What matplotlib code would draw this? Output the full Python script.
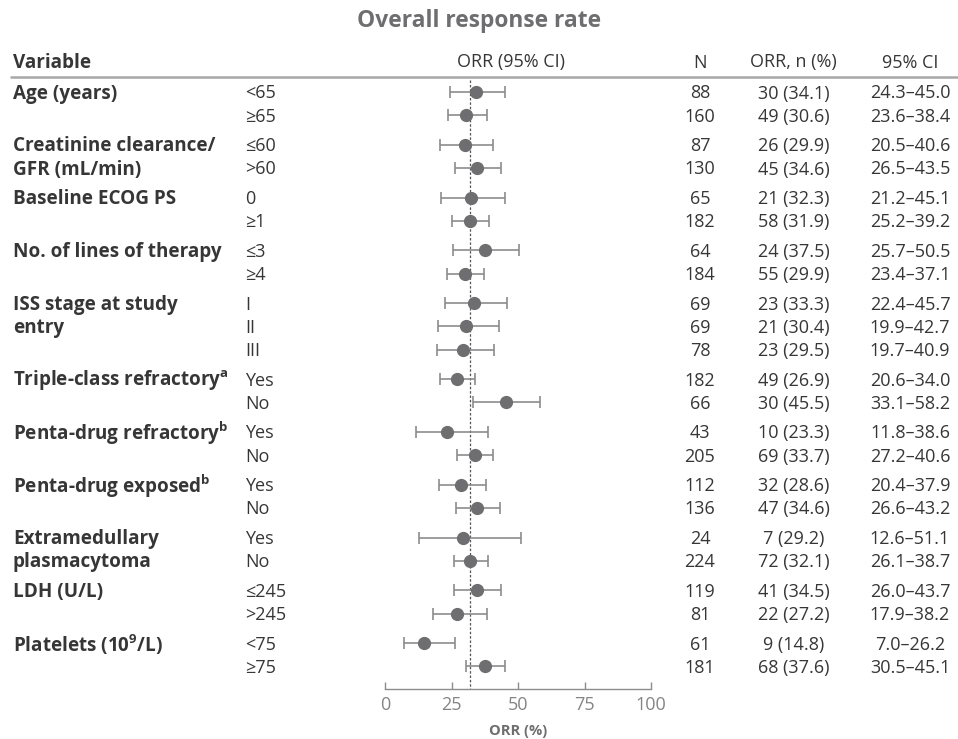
import matplotlib.pyplot as plt

plt.rcParams['font.family'] = ['Open Sans', 'DejaVu Sans']
plt.rcParams['mathtext.fontset'] = 'custom'
plt.rcParams['mathtext.rm'] = 'Open Sans'
plt.rcParams['mathtext.bf'] = 'Open Sans:bold'

# data
variables = [
    ['Age (years)'],
    ['Creatinine clearance/', 'GFR (mL/min)'],
    ['Baseline ECOG PS'],
    ['No. of lines of therapy'],
    ['ISS stage at study', 'entry'],
    [r'Triple-class refractory$^{\mathbf{a}}$'],
    [r'Penta-drug refractory$^{\mathbf{b}}$'],
    [r'Penta-drug exposed$^{\mathbf{b}}$'],
    ['Extramedullary', 'plasmacytoma'],
    ['LDH (U/L)'],
    [r'Platelets (10$^{\mathbf{9}}$/L)'],
]
subgroups = [
    ['<65', '≥65'],
    ['≤60', '>60'],
    ['0', '≥1'],
    ['≤3', '≥4'],
    ['I', 'II', 'III'],
    ['Yes', 'No'],
    ['Yes', 'No'],
    ['Yes', 'No'],
    ['Yes', 'No'],
    ['≤245', '>245'],
    ['<75', '≥75'],
]
n_pts = [88, 160, 87, 130, 65, 182, 64, 184, 69, 69, 78, 182, 66,
         43, 205, 112, 136, 24, 224, 119, 81, 61, 181]
n_resp = [30, 49, 26, 45, 21, 58, 24, 55, 23, 21, 23, 49, 30,
          10, 69, 32, 47, 7, 72, 41, 22, 9, 68]
orr = [34.1, 30.6, 29.9, 34.6, 32.3, 31.9, 37.5, 29.9, 33.3, 30.4, 29.5,
       26.9, 45.5, 23.3, 33.7, 28.6, 34.6, 29.2, 32.1, 34.5, 27.2, 14.8, 37.6]
ci_lo = [24.3, 23.6, 20.5, 26.5, 21.2, 25.2, 25.7, 23.4, 22.4, 19.9, 19.7,
         20.6, 33.1, 11.8, 27.2, 20.4, 26.6, 12.6, 26.1, 26.0, 17.9, 7.0, 30.5]
ci_hi = [45.0, 38.4, 40.6, 43.5, 45.1, 39.2, 50.5, 37.1, 45.7, 42.7, 40.9,
         34.0, 58.2, 38.6, 40.6, 37.9, 43.2, 51.1, 38.7, 43.7, 38.2, 26.2, 45.1]
overall_orr = 31.9

W, H = 958, 739
TEXT = '#363636'
GREY = '#6e6e70'
BAR = '#8c8c8e'
FS = 13
FSB = 13.6
DY = 1.5  # text baseline nudge

# row positions (pixels from top)
ys = []
y = 92.0
for gi, subs in enumerate(subgroups):
    if gi > 0:
        y += 29.6 - 23.2
    for si in range(len(subs)):
        if gi > 0 or si > 0:
            y += 23.2
        ys.append(y)

fig = plt.figure(figsize=(W / 100, H / 100), dpi=100)
tx = fig.add_axes([0, 0, 1, 1])
tx.set_xlim(0, W)
tx.set_ylim(H, 0)
tx.axis('off')

tx.text(479, 21, 'Overall response rate', ha='center', va='center',
        fontsize=16.4, fontweight='bold', color=GREY)

hy = 61 + DY
tx.text(13, hy, 'Variable', ha='left', va='center', fontsize=FSB,
        fontweight='bold', color=TEXT)
tx.text(511, hy, 'ORR (95% CI)', ha='center', va='center', fontsize=FS, color=TEXT)
tx.text(700, hy, 'N', ha='center', va='center', fontsize=FS, color=TEXT)
tx.text(793, hy, 'ORR, n (%)', ha='center', va='center', fontsize=FS, color=TEXT)
tx.text(910, hy, '95% CI', ha='center', va='center', fontsize=FS, color=TEXT)
tx.plot([10, 958], [77, 77], color='#a8a8a8', lw=1.8, solid_capstyle='butt')

k = 0
for gi, subs in enumerate(subgroups):
    for li, line in enumerate(variables[gi]):
        tx.text(13, ys[k + li] + DY, line, ha='left', va='center', fontsize=FSB,
                fontweight='bold', color=TEXT)
    for s in subs:
        yy = ys[k] + DY
        tx.text(245, yy, s, ha='left', va='center', fontsize=FS, color=TEXT)
        tx.text(700, yy, str(n_pts[k]), ha='center', va='center', fontsize=FS, color=TEXT)
        tx.text(794, yy, f'{n_resp[k]} ({orr[k]:.1f})', ha='center', va='center',
                fontsize=FS, color=TEXT)
        tx.text(910, yy, f'{ci_lo[k]:.1f}–{ci_hi[k]:.1f}', ha='center', va='center',
                fontsize=FS, color=TEXT)
        k += 1

# forest panel
ax = fig.add_axes([385 / W, 0, 266 / W, 1])
ax.set_xlim(0, 100)
ax.set_ylim(H, 0)
ax.patch.set_alpha(0)
for sp in ['top', 'left', 'right']:
    ax.spines[sp].set_visible(False)
ax.spines['bottom'].set_position(('data', 689))
ax.spines['bottom'].set_color('#8c8c8e')
ax.spines['bottom'].set_linewidth(1.0)
ax.set_yticks([])
ax.set_xticks([0, 25, 50, 75, 100])
ax.tick_params(axis='x', direction='in', length=5, width=1.0, color='#8c8c8e',
               labelsize=FS, labelcolor='#858585', pad=5)

ax.plot([overall_orr, overall_orr], [80, 689], color='#555555', lw=0.9,
        ls=(0, (2, 1.5)))
err = [[o - l for o, l in zip(orr, ci_lo)], [h - o for o, h in zip(orr, ci_hi)]]
ax.errorbar(orr, ys, xerr=err, fmt='o', color=GREY, ecolor=BAR, elinewidth=1.2,
            capsize=4, capthick=1.2, markersize=8.5)

tx.text(518, 731, 'ORR (%)', ha='center', va='center', fontsize=10.5,
        fontweight='bold', color='#6e6e70')

fig.savefig('out.png', dpi=100)
